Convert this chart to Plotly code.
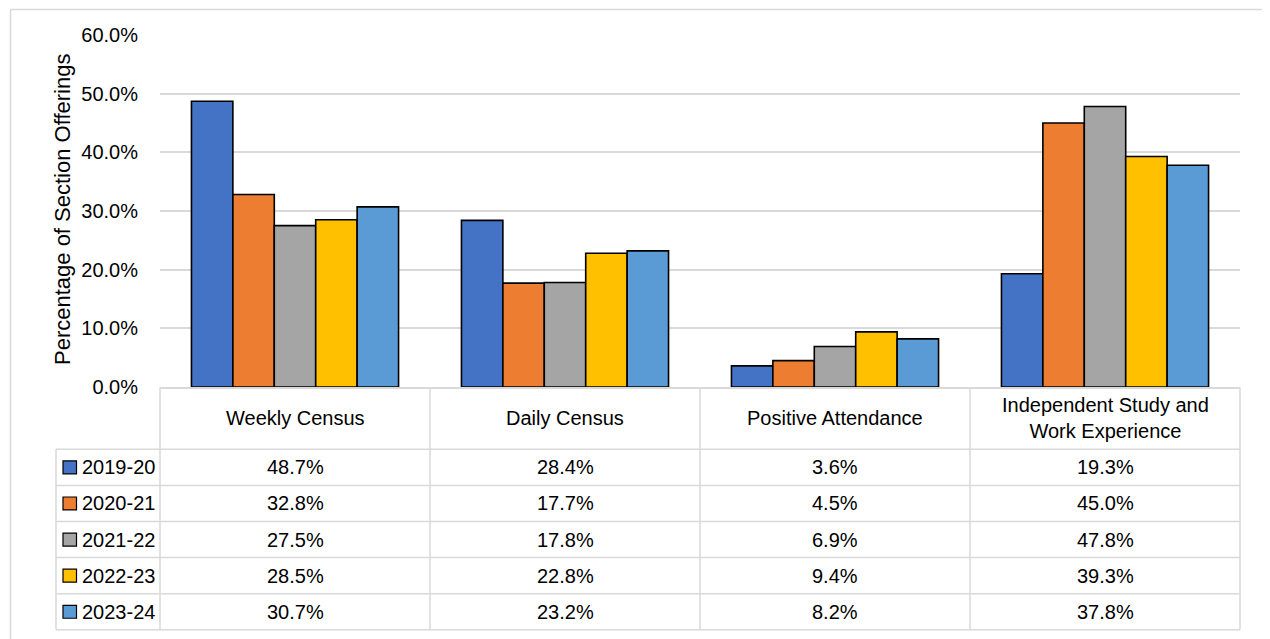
import plotly.graph_objects as go

categories = ["Weekly Census", "Daily Census", "Positive Attendance", "Independent Study and Work Experience"]
header_labels = ["Weekly Census", "Daily Census", "Positive Attendance", "Independent Study and<br>Work Experience"]
series_names = ["2019-20", "2020-21", "2021-22", "2022-23", "2023-24"]
v_2019_20 = [48.7, 28.4, 3.6, 19.3]
v_2020_21 = [32.8, 17.7, 4.5, 45.0]
v_2021_22 = [27.5, 17.8, 6.9, 47.8]
v_2022_23 = [28.5, 22.8, 9.4, 39.3]
v_2023_24 = [30.7, 23.2, 8.2, 37.8]
series_values = [v_2019_20, v_2020_21, v_2021_22, v_2022_23, v_2023_24]
colors = ["#4472C4", "#ED7D31", "#A5A5A5", "#FFC000", "#5B9BD5"]
y_title = "Percentage of Section Offerings"

FONT = "Liberation Sans, Arial, sans-serif"
FS = 20
GRID = "#D9D9D9"

# page offset (browser body margin)
OFF = 8
# plot-area geometry in screen pixels
WID, HEI = 1270, 639
L, R, T, B = 160, 1240, 34.5, 387.5
PW, PH = R - L, B - T


def px2x(p):
    return (p - L) / PW


def py2y(p):
    return (B - p) / PH


fig = go.Figure()
for name, vals, col in zip(series_names, series_values, colors):
    fig.add_trace(go.Bar(
        x=categories, y=vals, name=name,
        marker=dict(color=col, line=dict(color="#000000", width=1.6)),
        showlegend=False,
    ))

shapes = []
annotations = []
lc = dict(color=GRID, width=1.5)

# outer chart border (drawn as separate edges)
bx0, bx1, by0, by1 = 10.5, 1266.5, 9, 660
for (xa, ya, xb, yb) in [(bx0, by0, bx1, by0), (bx0, by0, bx0, by1), (bx1, by0, bx1, by1)]:
    shapes.append(dict(type="line", xref="paper", yref="paper",
                       x0=px2x(xa), x1=px2x(xb), y0=py2y(ya), y1=py2y(yb), line=lc, layer="below"))

n = len(categories)
header_bottom = 450
row_h = 36.2
table_top = 388
nrows = len(series_names)
table_bottom = header_bottom + row_h * nrows
left_px = 56

# vertical column lines
for i in range(n + 1):
    shapes.append(dict(type="line", xref="paper", yref="paper",
                       x0=i / n, x1=i / n, y0=py2y(table_top), y1=py2y(table_bottom), line=lc))
# left legend column line
shapes.append(dict(type="line", xref="paper", yref="paper",
                   x0=px2x(left_px), x1=px2x(left_px), y0=py2y(header_bottom), y1=py2y(table_bottom), line=lc))
# horizontal row lines
for k in range(nrows + 1):
    yy = py2y(header_bottom + k * row_h)
    shapes.append(dict(type="line", xref="paper", yref="paper",
                       x0=px2x(left_px), x1=1, y0=yy, y1=yy, line=lc))

# header labels
for i, lab in enumerate(header_labels):
    annotations.append(dict(xref="paper", yref="paper", x=(i + 0.5) / n,
                            y=py2y((table_top + header_bottom) / 2), text=lab, showarrow=False,
                            xanchor="center", yanchor="middle",
                            font=dict(family=FONT, size=FS, color="#000000")))

# data rows
for r, (name, vals, col) in enumerate(zip(series_names, series_values, colors)):
    cy = header_bottom + row_h * (r + 0.5)
    shapes.append(dict(type="rect", xref="paper", yref="paper",
                       x0=px2x(63), x1=px2x(76.5), y0=py2y(cy - 6.5), y1=py2y(cy + 6.5),
                       fillcolor=col, line=dict(color="#000000", width=1.2)))
    annotations.append(dict(xref="paper", yref="paper", x=px2x(80), y=py2y(cy),
                            text=name, showarrow=False, xanchor="left", yanchor="middle",
                            font=dict(family=FONT, size=FS, color="#000000")))
    for i, v in enumerate(vals):
        annotations.append(dict(xref="paper", yref="paper", x=(i + 0.5) / n, y=py2y(cy),
                                text=f"{v:.1f}%", showarrow=False, xanchor="center", yanchor="middle",
                                font=dict(family=FONT, size=FS, color="#000000")))

# y-axis title
annotations.append(dict(xref="paper", yref="paper", x=px2x(62), y=py2y(210),
                        text=y_title, textangle=-90, showarrow=False,
                        xanchor="center", yanchor="middle",
                        font=dict(family=FONT, size=22, color="#000000")))

fig.update_layout(
    width=WID, height=HEI, autosize=False,
    margin=dict(l=L - OFF, r=WID - R + OFF, t=T - OFF, b=HEI - B + OFF, pad=0),
    paper_bgcolor="#FFFFFF", plot_bgcolor="#FFFFFF",
    barmode="group", bargap=0.233, bargroupgap=0,
    shapes=shapes, annotations=annotations,
    font=dict(family=FONT, size=FS, color="#000000"),
)
fig.update_xaxes(showticklabels=False, ticks="", showgrid=False, zeroline=False,
                 showline=True, linecolor=GRID, linewidth=1.5, range=[-0.5, n - 0.5])
fig.update_yaxes(range=[0, 60], dtick=10, tick0=0, tickformat=".1f", ticksuffix="%",
                 showgrid=True, gridcolor=GRID, gridwidth=1.5, zeroline=False,
                 showline=False, ticks="", ticklabelstandoff=21,
                 tickfont=dict(family=FONT, size=FS, color="#000000"))

fig.write_html("out.html")
